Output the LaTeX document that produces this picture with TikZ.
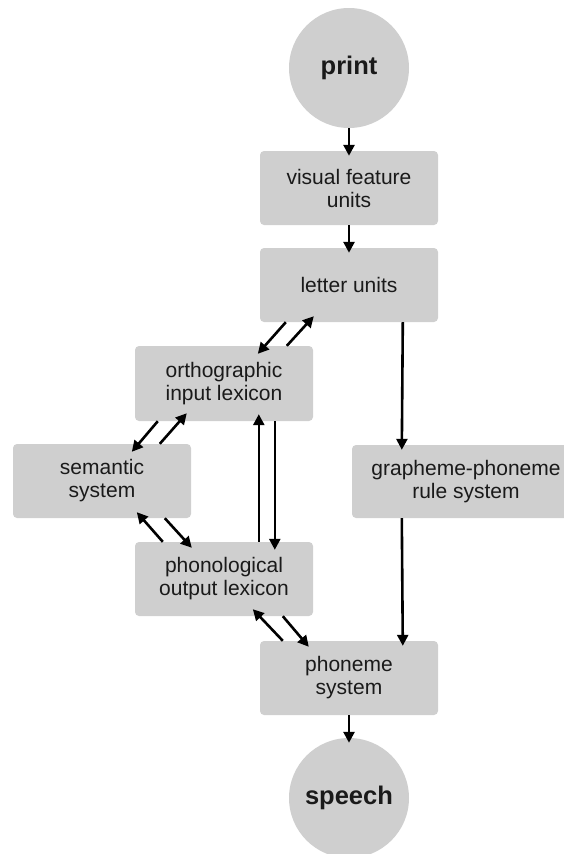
\documentclass[tikz,border=0pt]{standalone}
\usepackage{fontspec}
\setmainfont{Liberation Sans}
\usetikzlibrary{arrows.meta,calc}
\definecolor{boxgray}{RGB}{207,207,207}
\definecolor{inkgray}{RGB}{26,26,26}
\begin{document}
\begin{tikzpicture}[x=1pt,y=-1pt,
  unit/.style={fill=boxgray,rounded corners=4pt,inner sep=0pt,align=center,
    minimum width=178pt,minimum height=74pt,text=inkgray,
    font=\fontsize{21}{23}\selectfont},
  terminal/.style={circle,fill=boxgray,inner sep=0pt,minimum size=120pt,
    text=inkgray,font=\fontsize{25.5}{28}\selectfont\bfseries},
  arr/.style={line width=2.6pt,draw=black,-{Triangle[length=11pt,width=11pt]}}]
\useasboundingbox (0,0) rectangle (564,854);
% processing units
\node[terminal] (print) at (349,68) {print};
\node[unit] (visual) at (349,188) {visual feature\\units};
\node[unit] (letter) at (349,285) {letter units};
\node[unit,minimum height=75pt] (ortho) at (224,383.5) {orthographic\\input lexicon};
\node[unit] (semantic) at (102,481) {semantic\\system};
\node[unit,minimum width=228pt,minimum height=73pt] (gpc) at (466,481.5) {grapheme-phoneme\\rule system};
\node[unit] (phono) at (224,579) {phonological\\output lexicon};
\node[unit] (phoneme) at (349,678) {phoneme\\system};
\node[terminal] (speech) at (349,798) {speech};
% main route
\draw[arr] (print.south) -- ($(visual.north)+(0,5)$);
\draw[arr] (visual.south) -- ($(letter.north)+(0,5)$);
\draw[arr] (phoneme.south) -- ($(speech.north)+(0,5)$);
% lexical route
\draw[arr] ($(letter.south west)+(26,0)$) -- ($(ortho.north west)+(123,8)$);
\draw[arr] ($(ortho.north west)+(152,0)$) -- ($(letter.south west)+(54,-6)$);
\draw[arr] ($(ortho.south west)+(23,0)$) -- ($(semantic.north west)+(119,8)$);
\draw[arr] ($(semantic.north west)+(147,0)$) -- ($(ortho.south west)+(52,-8)$);
\draw[arr] ($(phono.north west)+(124,0)$) -- ($(ortho.south west)+(124,-7)$);
\draw[arr] ($(ortho.south west)+(140,0)$) -- ($(phono.north west)+(140,8)$);
\draw[arr] ($(phono.north west)+(28,0)$) -- ($(semantic.south west)+(124,-6)$);
\draw[arr] ($(semantic.south west)+(152,0)$) -- ($(phono.north west)+(57,6)$);
\draw[arr] ($(phoneme.north west)+(23,0)$) -- ($(phono.south west)+(118,-7)$);
\draw[arr] ($(phono.south west)+(148,0)$) -- ($(phoneme.north west)+(49,6)$);
% sublexical route
\draw[arr] ($(letter.south west)+(143,0)$) -- ($(gpc.north west)+(50,5)$);
\draw[arr] ($(gpc.south west)+(50,0)$) -- ($(phoneme.north west)+(143,5)$);
\end{tikzpicture}
\end{document}
